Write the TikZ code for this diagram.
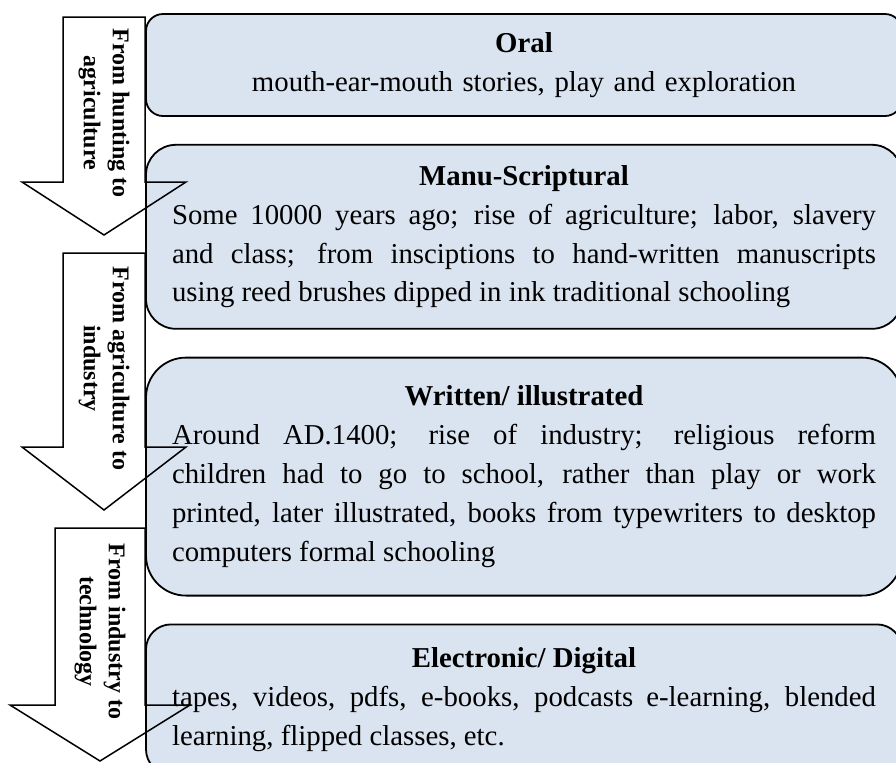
\documentclass[tikz,border=0pt]{standalone}
\usepackage{fontspec}
\setmainfont{Liberation Serif}
\usetikzlibrary{chains}
\definecolor{boxblue}{RGB}{218,227,240}
% block arrow: name, shaft left, shaft right, top, head base, head extend, tip, label
\def\flow#1#2#3#4#5#6#7#8{
      \draw[arr] (#2,#4) -- (#3,#4) -- (#3,#5) -- ({#3+#6},#5)
          -- ({(#2+#3)/2},#7) -- ({#2-#6},#5) -- (#2,#5) -- cycle;
      \node[lbl] (#1) at ({(#2+#3)/2},{(#4+#7)/2-13}) {#8};
  }

\begin{document}
\begin{tikzpicture}[x=0.5pt, y=-0.5pt,
  node distance = 13.5pt,
  start chain = going below,
  box/.style = {draw, line width=.9pt, fill=boxblue
    , rounded corners=#1
    , minimum width=378pt, text width=352pt, inner sep=0pt
    , font=\fontsize{14.4pt}{19.4pt}\selectfont
    , on chain, align=justify},
  arr/.style = {draw, line width=.75pt},
  lbl/.style = {rotate=-90, align=center, inner sep=0pt
    , font=\fontsize{12pt}{14.5pt}\selectfont\bfseries}]

 \useasboundingbox (0,0) rectangle (896,762);
 \clip (0,0) rectangle (896,762);

 \node[box=8.5pt, minimum height=51pt, align=center] (oral) at (524,65)
   {\textbf{Oral}\\mouth-ear-mouth stories, play and exploration};
 \node[box=15pt, minimum height=92pt] (manu)
   {{\centering\bfseries Manu-Scriptural\par}Some 10000 years ago; rise of agriculture; labor, slavery\linebreak
    and class; from insciptions to hand-written manuscripts\linebreak
    using reed brushes dipped in ink traditional schooling};
 \node[box=20pt, minimum height=119pt] (written)
   {{\centering\bfseries Written/ illustrated\par}Around AD.1400; rise of industry; religious reform\linebreak
    children had to go to school, rather than play or work\linebreak
    printed, later illustrated, books from typewriters to desktop\linebreak
    computers formal schooling};
 \node[box=12.5pt, minimum height=75pt] (digital)
   {{\centering\bfseries Electronic/ Digital\par}tapes, videos, pdfs, e-books, podcasts e-learning, blended\linebreak
    learning, flipped classes, etc.};

 \flow{hunt}{63}{145}{17}{182}{41}{235}{From hunting to\\agriculture}
 \flow{agri}{63}{145}{253}{447}{41}{510}{From agriculture to\\industry}
 \flow{indu}{55}{145}{528}{705}{45}{761}{From industry to\\technology}
\end{tikzpicture}
\end{document}
